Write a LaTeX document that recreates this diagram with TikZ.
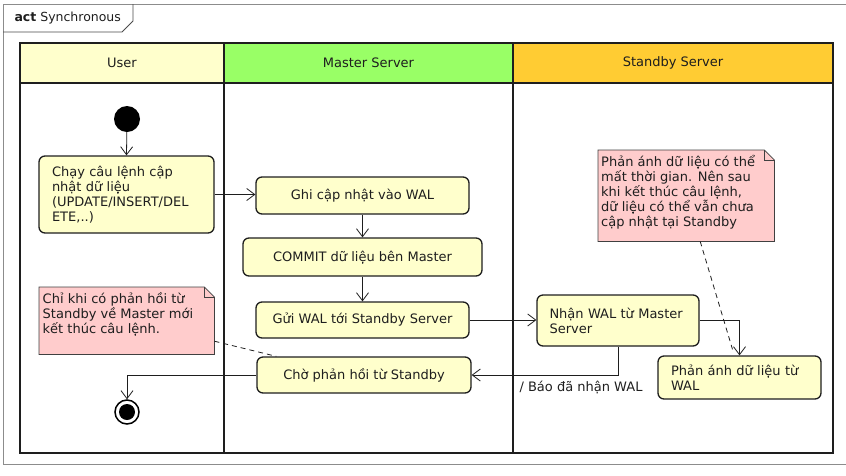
\documentclass[tikz,border=0pt]{standalone}
\usepackage{fontspec}
\setmainfont{DejaVu Sans}
\usetikzlibrary{arrows.meta,backgrounds}
\definecolor{actfill}{HTML}{FFFFCC}
\definecolor{userhead}{HTML}{FFFFCC}
\definecolor{masterhead}{HTML}{99FF66}
\definecolor{standbyhead}{HTML}{FFCC33}
\definecolor{notefill}{HTML}{FFCCCC}
\definecolor{framegray}{HTML}{8C8C8C}
\definecolor{inkc}{HTML}{1E1E1E}
\begin{document}
\begin{tikzpicture}[x=1pt,y=-1pt,
  txt/.style={font=\fontsize{13}{15}\selectfont, text=inkc},
  act/.style={txt, draw=inkc, line width=1.3pt, fill=actfill, rounded corners=6pt, inner sep=0pt, align=center},
  actl/.style={act, align=left},
  flow/.style={draw=inkc, line width=0.8pt, -{Straight Barb[length=8pt,width=12pt,line width=0.8pt]}},
  notebox/.style={txt, anchor=north west, inner xsep=3.5pt, inner ysep=5pt},
  noteshape/.style={fill=notefill, draw=inkc!85, line width=0.8pt},
  anchorline/.style={draw=inkc, line width=0.8pt, dash pattern=on 5pt off 4pt},
  lanehead/.style={txt, anchor=center},
]
\useasboundingbox (0,0) rectangle (846,475);

% outer frame and tab
\draw[framegray, line width=1pt] (3,464) -- (3,4) -- (846,4);
\draw[framegray, line width=1pt] (3,464) -- (846,464);
\draw[inkc!80, line width=0.8pt] (3,32) -- (122,32) -- (133,21) -- (133,4);
\node[txt, font=\fontsize{12.5}{14}\selectfont, anchor=west] (title) at (11,18) {\textbf{act} Synchronous};

% swimlanes
\path[fill=userhead] (20,43) rectangle (224,83);
\path[fill=masterhead] (224,43) rectangle (513,83);
\path[fill=standbyhead] (513,43) rectangle (833,83);
\draw[inkc, line width=2pt] (20,43) rectangle (833,453);
\draw[inkc, line width=2pt] (20,83) -- (833,83);
\draw[inkc, line width=2pt] (224,43) -- (224,453);
\draw[inkc, line width=2pt] (513,43) -- (513,453);
\node[lanehead] (hUser) at (122,63) {User};
\node[lanehead] (hMaster) at (368.5,63) {Master Server};
\node[lanehead] (hStandby) at (673,63) {Standby Server};

% start / end
\node[circle, fill=black, minimum size=26pt, inner sep=0pt] (start) at (127,119) {};
\node[circle, draw=black, line width=1.5pt, fill=white, minimum size=24pt, inner sep=0pt] (final) at (127,412) {};
\node[circle, fill=black, minimum size=16pt, inner sep=0pt] (finalin) at (final.center) {};

% actions
\node[actl, minimum height=77pt, text width=149pt, inner xsep=13pt] (chay) at (126.5,194.5)
  {Chạy câu lệnh cập\\nhật dữ liệu\\(UPDATE/INSERT/DEL\\ETE,..)};
\node[act, minimum width=213pt, minimum height=37pt] (ghi) at (362.5,195.5) {Ghi cập nhật vào WAL};
\node[act, minimum width=239pt, minimum height=38pt] (commit) at (362.5,257) {COMMIT dữ liệu bên Master};
\node[act, minimum width=213pt, minimum height=36pt] (gui) at (362.5,320) {Gửi WAL tới Standby Server};
\node[act, minimum width=214pt, minimum height=36pt] (cho) at (364,375) {Chờ phản hồi từ Standby};
\node[actl, minimum height=51pt, text width=137pt, inner xsep=12.5pt] (nhan) at (618,320.5)
  {Nhận WAL từ Master\\Server};
\node[actl, minimum height=43pt, text width=137pt, inner xsep=13pt] (phan) at (739.5,377.5)
  {Phản ánh dữ liệu từ\\WAL};

% notes
\node[notebox] (n1) at (39,287)
  {\parbox[t][57pt][t]{168pt}{Chỉ khi có phản hồi từ\\Standby về Master mới\\kết thúc câu lệnh.}};
\node[notebox, inner xsep=3pt] (n2) at (598,150)
  {\parbox[t][81pt][t]{170pt}{Phản ánh dữ liệu có thể\\mất thời gian. Nên sau\\khi kết thúc câu lệnh,\\dữ liệu có thể vẫn chưa\\cập nhật tại Standby}};
\begin{scope}[on background layer]
  \foreach \n in {n1,n2} {
    \path[noteshape] (\n.north west) -- ([xshift=-10pt]\n.north east) -- ([yshift=-10pt]\n.north east)
      -- (\n.south east) -- (\n.south west) -- cycle;
    \draw[inkc!85, line width=0.8pt] ([xshift=-10pt]\n.north east) -- ([xshift=-10pt,yshift=-10pt]\n.north east)
      -- ([yshift=-10pt]\n.north east);
  }
\end{scope}

% flows
\draw[flow] (start) -- (chay.north);
\draw[flow] (chay.east) -- (chay.east -| ghi.west);
\draw[flow] (ghi.south) -- (commit.north);
\draw[flow] (commit.south) -- (gui.north);
\draw[flow] (gui.east) -- (gui.east -| nhan.west);
\draw[flow] (nhan.east) -| (phan.north);
\draw[flow] (nhan.south) |- (cho.east);
\draw[flow] (cho.west) -| (final.north);
\node[txt, anchor=west] (lbl) at (516,387) {/ Báo đã nhận WAL};

% note anchors
\draw[anchorline] ([yshift=-20.5pt]n1.east) -- ([xshift=20pt]cho.north west);
\draw[anchorline] ([xshift=14pt]n2.south) -- ([xshift=-7pt,yshift=6pt]phan.north);
\end{tikzpicture}
\end{document}
